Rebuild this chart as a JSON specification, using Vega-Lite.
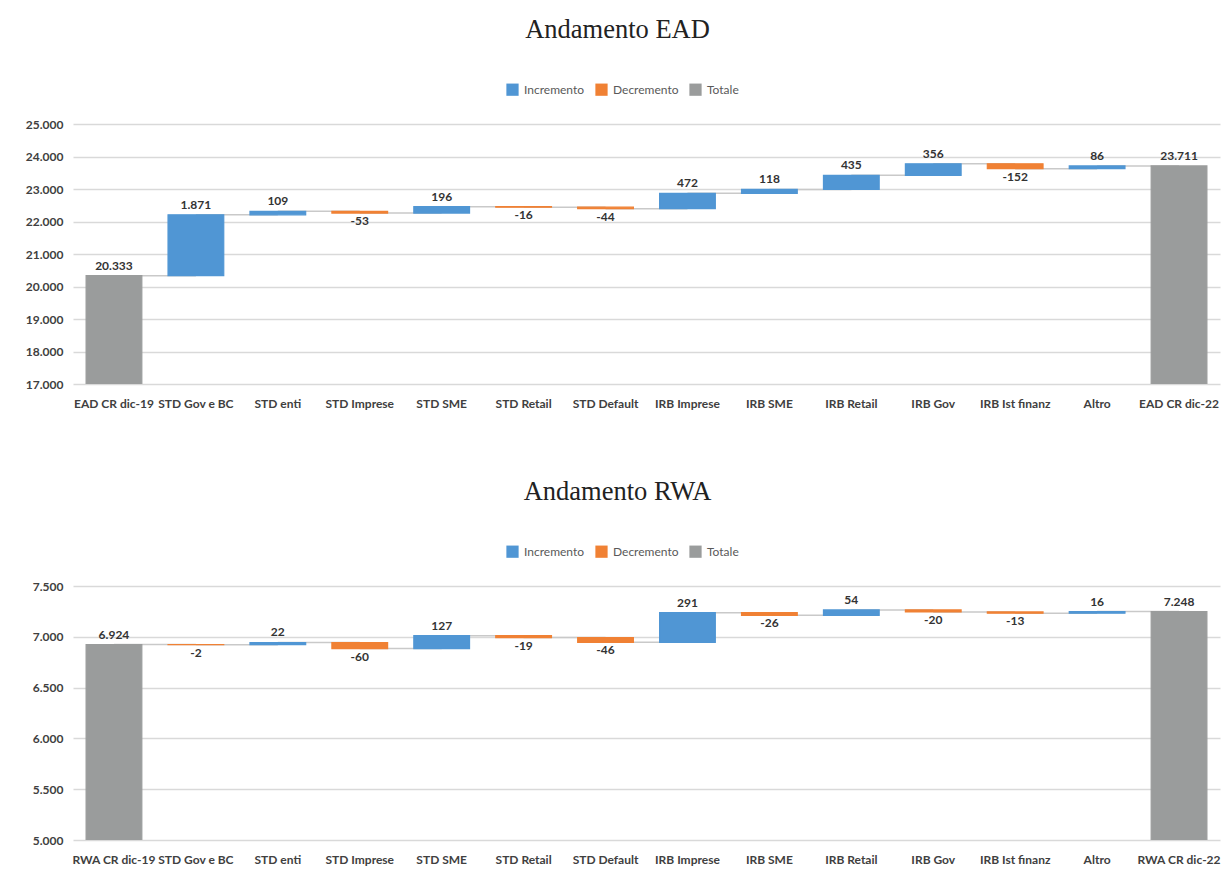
{
  "$schema": "https://vega.github.io/schema/vega-lite/v6.json",
  "background": "white",
  "padding": {"left": 25, "right": 0, "top": 16, "bottom": 5},
  "spacing": 69,
  "datasets": {
    "ead": [
      {"cat": "EAD CR dic-19", "start": 0, "end": 20333, "value": 20333, "type": "Totale", "next": "STD Gov e BC"},
      {"cat": "STD Gov e BC", "start": 20333, "end": 22204, "value": 1871, "type": "Incremento", "next": "STD enti"},
      {"cat": "STD enti", "start": 22204, "end": 22313, "value": 109, "type": "Incremento", "next": "STD Imprese"},
      {"cat": "STD Imprese", "start": 22313, "end": 22260, "value": -53, "type": "Decremento", "next": "STD SME"},
      {"cat": "STD SME", "start": 22260, "end": 22456, "value": 196, "type": "Incremento", "next": "STD Retail"},
      {"cat": "STD Retail", "start": 22456, "end": 22440, "value": -16, "type": "Decremento", "next": "STD Default"},
      {"cat": "STD Default", "start": 22440, "end": 22396, "value": -44, "type": "Decremento", "next": "IRB Imprese"},
      {"cat": "IRB Imprese", "start": 22396, "end": 22868, "value": 472, "type": "Incremento", "next": "IRB SME"},
      {"cat": "IRB SME", "start": 22868, "end": 22986, "value": 118, "type": "Incremento", "next": "IRB Retail"},
      {"cat": "IRB Retail", "start": 22986, "end": 23421, "value": 435, "type": "Incremento", "next": "IRB Gov"},
      {"cat": "IRB Gov", "start": 23421, "end": 23777, "value": 356, "type": "Incremento", "next": "IRB Ist finanz"},
      {"cat": "IRB Ist finanz", "start": 23777, "end": 23625, "value": -152, "type": "Decremento", "next": "Altro"},
      {"cat": "Altro", "start": 23625, "end": 23711, "value": 86, "type": "Incremento", "next": "EAD CR dic-22"},
      {"cat": "EAD CR dic-22", "start": 0, "end": 23711, "value": 23711, "type": "Totale", "next": null}
    ],
    "rwa": [
      {"cat": "RWA CR dic-19", "start": 0, "end": 6924, "value": 6924, "type": "Totale", "next": "STD Gov e BC"},
      {"cat": "STD Gov e BC", "start": 6924, "end": 6922, "value": -2, "type": "Decremento", "next": "STD enti"},
      {"cat": "STD enti", "start": 6922, "end": 6944, "value": 22, "type": "Incremento", "next": "STD Imprese"},
      {"cat": "STD Imprese", "start": 6944, "end": 6884, "value": -60, "type": "Decremento", "next": "STD SME"},
      {"cat": "STD SME", "start": 6884, "end": 7011, "value": 127, "type": "Incremento", "next": "STD Retail"},
      {"cat": "STD Retail", "start": 7011, "end": 6992, "value": -19, "type": "Decremento", "next": "STD Default"},
      {"cat": "STD Default", "start": 6992, "end": 6946, "value": -46, "type": "Decremento", "next": "IRB Imprese"},
      {"cat": "IRB Imprese", "start": 6946, "end": 7237, "value": 291, "type": "Incremento", "next": "IRB SME"},
      {"cat": "IRB SME", "start": 7237, "end": 7211, "value": -26, "type": "Decremento", "next": "IRB Retail"},
      {"cat": "IRB Retail", "start": 7211, "end": 7265, "value": 54, "type": "Incremento", "next": "IRB Gov"},
      {"cat": "IRB Gov", "start": 7265, "end": 7245, "value": -20, "type": "Decremento", "next": "IRB Ist finanz"},
      {"cat": "IRB Ist finanz", "start": 7245, "end": 7232, "value": -13, "type": "Decremento", "next": "Altro"},
      {"cat": "Altro", "start": 7232, "end": 7248, "value": 16, "type": "Incremento", "next": "RWA CR dic-22"},
      {"cat": "RWA CR dic-22", "start": 0, "end": 7248, "value": 7248, "type": "Totale", "next": null}
    ]
  },
  "resolve": {"scale": {"x": "independent", "y": "independent", "color": "independent"}, "legend": {"color": "independent"}},
  "vconcat": [
    {
      "title": {"text": "Andamento EAD", "dx": -29},
      "width": 1147,
      "height": 260,
      "data": {"name": "ead"},
      "encoding": {
        "x": {"field": "cat", "type": "nominal", "sort": null, "title": null,
          "scale": {"domain": ["EAD CR dic-19", "STD Gov e BC", "STD enti", "STD Imprese", "STD SME", "STD Retail", "STD Default", "IRB Imprese", "IRB SME", "IRB Retail", "IRB Gov", "IRB Ist finanz", "Altro", "EAD CR dic-22"], "paddingInner": 0.32, "paddingOuter": 0.16}}
      },
      "layer": [
        {
          "transform": [{"filter": "datum.next != null"}],
          "mark": {"type": "rule", "color": "#c9c9c9", "strokeWidth": 1.5},
          "encoding": {
            "x2": {"field": "next"},
            "y": {"field": "end", "type": "quantitative", "title": null,
              "scale": {"domain": [17000, 25000], "zero": false, "nice": false},
              "axis": {"values": [17000, 18000, 19000, 20000, 21000, 22000, 23000, 24000, 25000], "labelExpr": "replace(format(datum.value, ',.0f'), ',', '.')"}}
          }
        },
        {
          "mark": {"type": "bar", "clip": true, "strokeWidth": 1.2},
          "encoding": {
            "y": {"field": "start", "type": "quantitative", "title": null,
              "axis": {"values": [17000, 18000, 19000, 20000, 21000, 22000, 23000, 24000, 25000], "labelExpr": "replace(format(datum.value, ',.0f'), ',', '.')"}},
            "y2": {"field": "end"},
            "color": {"field": "type", "type": "nominal",
              "scale": {"domain": ["Incremento", "Decremento", "Totale"], "range": ["#5096d4", "#f08134", "#9a9c9c"]},
              "legend": {"orient": "none", "legendX": 433, "legendY": -41, "direction": "horizontal", "title": null}},
            "stroke": {"field": "type", "type": "nominal", "scale": {"domain": ["Incremento", "Decremento", "Totale"], "range": ["#5096d4", "#f08134", "#9a9c9c"]}, "legend": null}
          }
        },
        {
          "transform": [{"filter": "datum.type != 'Decremento'"}],
          "mark": {"type": "text", "baseline": "bottom", "dy": -3, "font": "Lato", "fontWeight": "bold", "fontSize": 12, "color": "#333333"},
          "encoding": {
            "y": {"field": "end", "type": "quantitative", "axis": {"values": [17000, 18000, 19000, 20000, 21000, 22000, 23000, 24000, 25000], "labelExpr": "replace(format(datum.value, ',.0f'), ',', '.')"}},
            "text": {"field": "value", "type": "quantitative", "format": ",.0f"}
          }
        },
        {
          "transform": [{"filter": "datum.type == 'Decremento'"}],
          "mark": {"type": "text", "baseline": "top", "dy": 3, "font": "Lato", "fontWeight": "bold", "fontSize": 12, "color": "#333333"},
          "encoding": {
            "y": {"field": "end", "type": "quantitative", "axis": {"values": [17000, 18000, 19000, 20000, 21000, 22000, 23000, 24000, 25000], "labelExpr": "replace(format(datum.value, ',.0f'), ',', '.')"}},
            "text": {"field": "value", "type": "quantitative", "format": ",.0f"}
          }
        }
      ]
    },
    {
      "title": {"text": "Andamento RWA", "dx": -29},
      "width": 1147,
      "height": 254,
      "data": {"name": "rwa"},
      "encoding": {
        "x": {"field": "cat", "type": "nominal", "sort": null, "title": null,
          "scale": {"domain": ["RWA CR dic-19", "STD Gov e BC", "STD enti", "STD Imprese", "STD SME", "STD Retail", "STD Default", "IRB Imprese", "IRB SME", "IRB Retail", "IRB Gov", "IRB Ist finanz", "Altro", "RWA CR dic-22"], "paddingInner": 0.32, "paddingOuter": 0.16}}
      },
      "layer": [
        {
          "transform": [{"filter": "datum.next != null"}],
          "mark": {"type": "rule", "color": "#c9c9c9", "strokeWidth": 1.5},
          "encoding": {
            "x2": {"field": "next"},
            "y": {"field": "end", "type": "quantitative", "title": null,
              "scale": {"domain": [5000, 7500], "zero": false, "nice": false},
              "axis": {"values": [5000, 5500, 6000, 6500, 7000, 7500], "labelExpr": "replace(format(datum.value, ',.0f'), ',', '.')"}}
          }
        },
        {
          "mark": {"type": "bar", "clip": true, "strokeWidth": 1.2},
          "encoding": {
            "y": {"field": "start", "type": "quantitative", "title": null,
              "axis": {"values": [5000, 5500, 6000, 6500, 7000, 7500], "labelExpr": "replace(format(datum.value, ',.0f'), ',', '.')"}},
            "y2": {"field": "end"},
            "color": {"field": "type", "type": "nominal",
              "scale": {"domain": ["Incremento", "Decremento", "Totale"], "range": ["#5096d4", "#f08134", "#9a9c9c"]},
              "legend": {"orient": "none", "legendX": 433, "legendY": -41, "direction": "horizontal", "title": null}},
            "stroke": {"field": "type", "type": "nominal", "scale": {"domain": ["Incremento", "Decremento", "Totale"], "range": ["#5096d4", "#f08134", "#9a9c9c"]}, "legend": null}
          }
        },
        {
          "transform": [{"filter": "datum.type != 'Decremento'"}],
          "mark": {"type": "text", "baseline": "bottom", "dy": -3, "font": "Lato", "fontWeight": "bold", "fontSize": 12, "color": "#333333"},
          "encoding": {
            "y": {"field": "end", "type": "quantitative", "axis": {"values": [5000, 5500, 6000, 6500, 7000, 7500], "labelExpr": "replace(format(datum.value, ',.0f'), ',', '.')"}},
            "text": {"field": "value", "type": "quantitative", "format": ",.0f"}
          }
        },
        {
          "transform": [{"filter": "datum.type == 'Decremento'"}],
          "mark": {"type": "text", "baseline": "top", "dy": 3, "font": "Lato", "fontWeight": "bold", "fontSize": 12, "color": "#333333"},
          "encoding": {
            "y": {"field": "end", "type": "quantitative", "axis": {"values": [5000, 5500, 6000, 6500, 7000, 7500], "labelExpr": "replace(format(datum.value, ',.0f'), ',', '.')"}},
            "text": {"field": "value", "type": "quantitative", "format": ",.0f"}
          }
        }
      ]
    }
  ],
  "config": {
    "view": {"stroke": null},
    "font": "Lato",
    "locale": {"number": {"decimal": ",", "thousands": ".", "grouping": [3], "currency": ["€", ""], "minus": "-"}},
    "title": {"font": "Liberation Serif", "fontSize": 26.5, "fontWeight": "normal", "color": "#222222", "anchor": "middle", "offset": 40},
    "axis": {"labelFont": "Lato", "labelFontWeight": "bold", "labelColor": "#404040", "labelFontSize": 12, "ticks": false, "domain": false, "gridColor": "#d9d9d9", "gridWidth": 1.5, "labelOverlap": false},
    "axisX": {"grid": false, "labelPadding": 14, "labelAngle": 0},
    "axisY": {"labelPadding": 10},
    "legend": {"symbolType": "square", "symbolSize": 150, "symbolStrokeWidth": 0, "labelFont": "Lato", "labelFontSize": 12, "labelColor": "#595959", "columnPadding": 10, "labelOffset": 5}
  }
}
